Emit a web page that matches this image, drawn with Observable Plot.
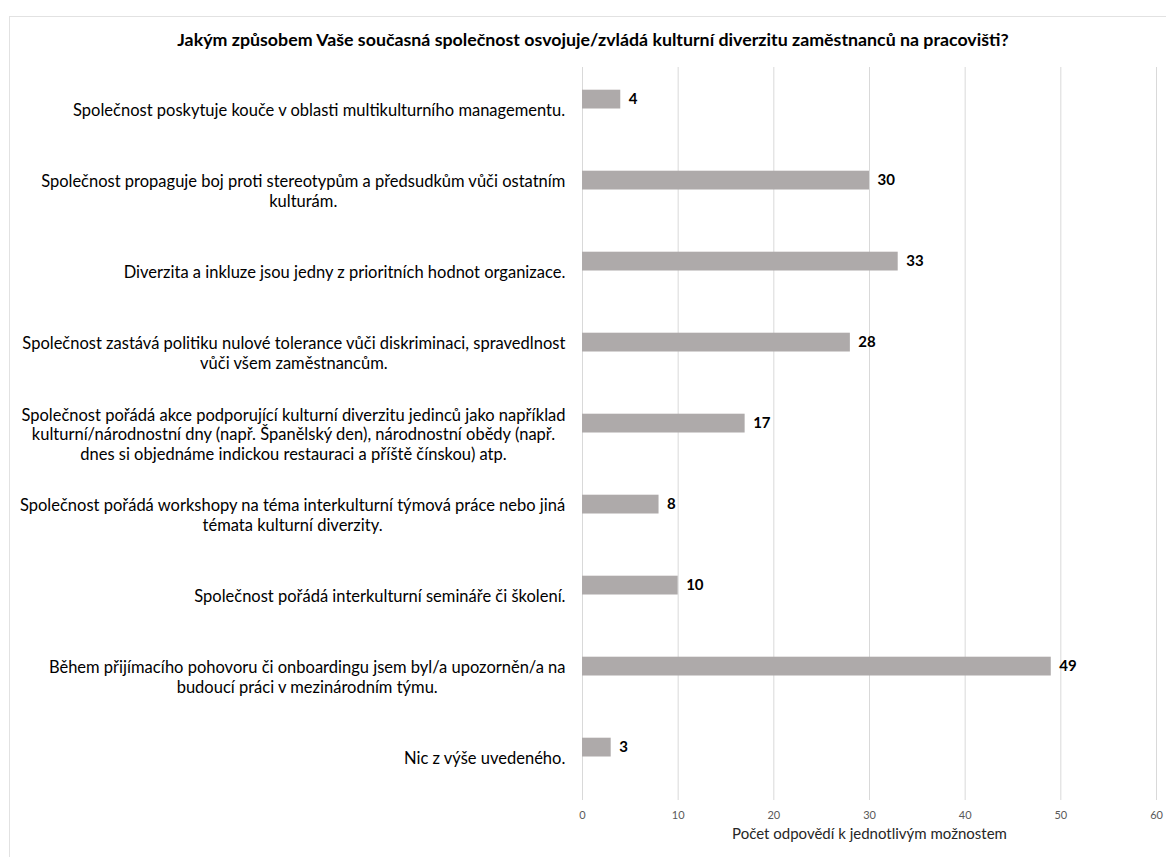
<!DOCTYPE html>
<html lang="cs">
<head>
<meta charset="utf-8">
<script src="https://cdn.jsdelivr.net/npm/d3@7"></script>
<script src="https://cdn.jsdelivr.net/npm/@observablehq/plot@0.6"></script>
<style>
  html, body { margin: 0; padding: 0; background: #fff; overflow: hidden; }
  #frame {
    position: absolute; left: 9px; top: 16px; width: 1200px; height: 900px;
    border: 1.5px solid #e2e2e2; box-sizing: border-box;
  }
  #title {
    position: absolute; left: 0; top: 26px; width: 1186px; height: 26px; line-height: 26px;
    text-align: center; font-family: Lato, "Open Sans", sans-serif; font-weight: 700;
    font-size: 17.8px; color: #000;
  }
  #chart { position: absolute; left: 0; top: 52px; }
</style>
</head>
<body>
<div id="frame"></div>
<div id="title">Jakým způsobem Vaše současná společnost osvojuje/zvládá kulturní diverzitu zaměstnanců na pracovišti?</div>
<div id="chart"></div>
<script>
// Answer options (line breaks as set in the category labels)
const categories = [
  "Společnost poskytuje kouče v oblasti multikulturního managementu.",
  "Společnost propaguje boj proti stereotypům a předsudkům vůči ostatním\nkulturám.",
  "Diverzita a inkluze jsou jedny z prioritních hodnot organizace.",
  "Společnost zastává politiku nulové tolerance vůči diskriminaci, spravedlnost\nvůči všem zaměstnancům.",
  "Společnost pořádá akce podporující kulturní diverzitu jedinců jako například\nkulturní/národnostní dny (např. Španělský den), národnostní obědy (např.\ndnes si objednáme indickou restauraci a příště čínskou) atp.",
  "Společnost pořádá workshopy na téma interkulturní týmová práce nebo jiná\ntémata kulturní diverzity.",
  "Společnost pořádá interkulturní semináře či školení.",
  "Během přijímacího pohovoru či onboardingu jsem byl/a upozorněn/a na\nbudoucí práci v mezinárodním týmu.",
  "Nic z výše uvedeného."
];
// Number of responses per option
const values = [4, 30, 33, 28, 17, 8, 10, 49, 3];
// Horizontal axis ticks
const xTicks = [0, 10, 20, 30, 40, 50, 60];
const xLabel = "Počet odpovědí k jednotlivým možnostem";

const data = categories.map((category, i) => ({category, value: values[i]}));

const labelFont = "Lato, 'Open Sans', sans-serif";
const labelSize = 16.5;
const ctx = document.createElement("canvas").getContext("2d");
ctx.font = `${labelSize}px Lato`;
const blockWidth = (s) => d3.max(s.split("\n"), (line) => ctx.measureText(line).width);

// Category labels: lines centred within a block whose right edge sits next to the axis
const labelMarks = categories.map((c) =>
  Plot.text([{category: c}], {
    x: () => 0,
    y: "category",
    text: "category",
    textAnchor: "middle",
    lineAnchor: "middle",
    lineHeight: 1.2,
    dx: -(17 + blockWidth(c) / 2),
    fontSize: labelSize,
    fontFamily: labelFont,
    fill: "#000"
  })
);

const chart = Plot.plot({
  width: 1166,
  height: 805,
  marginLeft: 582,
  marginRight: 10,
  marginTop: 15,
  marginBottom: 57,
  style: {fontFamily: labelFont, background: "transparent"},
  x: {domain: [0, 60], ticks: xTicks},
  y: {domain: categories, padding: 0, axis: null},
  marks: [
    Plot.gridX(xTicks, {stroke: "#d9d9d9", strokeOpacity: 1, strokeWidth: 1}),
    Plot.barX(data, {
      x: "value",
      y: "category",
      fill: "#aeaaaa",
      insetTop: 20.7,
      insetBottom: 41.5
    }),
    Plot.text(data, {
      x: "value",
      y: "category",
      text: (d) => String(d.value),
      textAnchor: "start",
      dx: 8,
      dy: -10.4,
      fontWeight: "bold",
      fontSize: 15,
      fill: "#000"
    }),
    ...labelMarks,
    Plot.axisX(xTicks, {
      tickSize: 0,
      tickPadding: 11,
      fontSize: 11,
      fill: "#595959",
      label: null
    }),
    Plot.text([xLabel], {
      frameAnchor: "bottom",
      dy: 38,
      text: (d) => d,
      fontSize: 15,
      fill: "#262626"
    })
  ]
});

document.getElementById("chart").appendChild(chart);
</script>
</body>
</html>
